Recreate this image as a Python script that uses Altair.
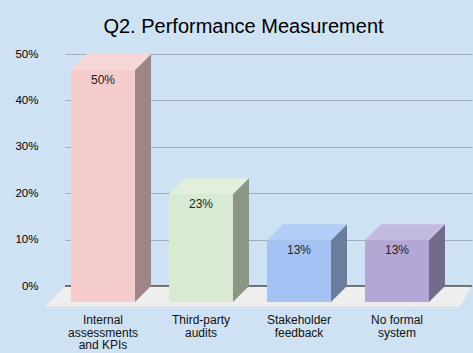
import altair as alt
import pandas as pd

# ---- data ----
categories = ["Internal assessments and KPIs", "Third-party audits",
              "Stakeholder feedback", "No formal system"]
label_lines = ["Internal\nassessments\nand KPIs", "Third-party\naudits",
               "Stakeholder\nfeedback", "No formal\nsystem"]
values = [50.0, 23.3, 13.3, 13.3]
y_ticks = [0, 10, 20, 30, 40, 50]

# ---- style / layout ----
FRONT = ["#f4cccc", "#d9ead3", "#a4c2f4", "#b4a7d6"]
SIDE = ["#a08585", "#8b9684", "#6a7d9c", "#746b8a"]
TOP = ["#f7d6d6", "#e1efdc", "#b4cdf6", "#c4b9df"]
BG = "#cfe2f3"
GRID = "#9eacba"
FLOOR = "#eeeeee"

PLOT_W, PLOT_H = 407, 232
X_DOMAIN = [-0.551, 3.602]
Y_DOMAIN = [0, 50]
PX_X = PLOT_W / (X_DOMAIN[1] - X_DOMAIN[0])
PX_Y = PLOT_H / (Y_DOMAIN[1] - Y_DOMAIN[0])
DEPTH = 16          # px, bar depth
FLOOR_DEPTH = 20.7  # px
HALF = 32 / PX_X
DXU = DEPTH / PX_X
DYU = DEPTH / PX_Y

xs = alt.Scale(domain=X_DOMAIN, nice=False, zero=False)
ys = alt.Scale(domain=Y_DOMAIN, nice=False, zero=False)
YAX = alt.Axis(values=y_ticks, labelExpr="datum.value + '%'",
               domain=False, ticks=False, grid=True, gridColor=GRID,
               gridWidth=1, labelPadding=27, labelFontSize=11.5,
               labelFont="Liberation Sans", labelColor="#000000",
               title=None)

idx = list(range(len(categories)))
bars = pd.DataFrame({"cat": categories, "i": idx, "v": values,
                     "lab": label_lines})
bars["fx"] = bars["i"] - HALF - DXU
bars["fx2"] = bars["i"] + HALF - DXU
bars["fy"] = bars["v"] - DYU
bars["fy2"] = -DYU
bars["base"] = 0.0
bars["txt"] = [f"{round(v):.0f}%" for v in values]

side_rows, top_rows = [], []
for c, i, v in zip(categories, idx, values):
    side_rows.append({"cat": c, "x": i + HALF - DXU, "y": v - DYU, "y2": -DYU})
    side_rows.append({"cat": c, "x": i + HALF, "y": v, "y2": 0.0})
    top_rows.append({"cat": c, "y": v - DYU, "x": i - HALF - DXU, "x2": i + HALF - DXU})
    top_rows.append({"cat": c, "y": v, "x": i - HALF, "x2": i + HALF})
side_df = pd.DataFrame(side_rows)
top_df = pd.DataFrame(top_rows)

floor_df = pd.DataFrame({
    "y": [-FLOOR_DEPTH / PX_Y, 0.0],
    "x": [X_DOMAIN[0] - 20 / PX_X, X_DOMAIN[0]],
    "x2": [X_DOMAIN[0] + 395 / PX_X, X_DOMAIN[1]],
})
zero_df = pd.DataFrame({"y": [0.0], "x": [X_DOMAIN[0]], "x2": [X_DOMAIN[1]]})

floor = alt.Chart(floor_df).mark_area(orient="horizontal", color=FLOOR).encode(
    y=alt.Y("y:Q", scale=ys, axis=YAX),
    x=alt.X("x:Q", scale=xs, axis=None),
    x2="x2:Q",
)

zero = alt.Chart(zero_df).mark_rule(color="#000000", strokeWidth=1).encode(
    y=alt.Y("y:Q", scale=ys, axis=YAX),
    x=alt.X("x:Q", scale=xs, axis=None),
    x2="x2:Q",
)

fronts = alt.Chart(bars).mark_rect(strokeWidth=0).encode(
    x=alt.X("fx:Q", scale=xs, axis=None),
    x2="fx2:Q",
    y=alt.Y("fy:Q", scale=ys, axis=YAX),
    y2="fy2:Q",
    color=alt.Color("cat:N", scale=alt.Scale(domain=categories, range=FRONT), legend=None),
)

sides = alt.Chart(side_df).mark_area(strokeWidth=0).encode(
    x=alt.X("x:Q", scale=xs, axis=None),
    y=alt.Y("y:Q", scale=ys, axis=YAX),
    y2="y2:Q",
    detail="cat:N",
    color=alt.Color("cat:N", scale=alt.Scale(domain=categories, range=SIDE), legend=None),
)

tops = alt.Chart(top_df).mark_area(orient="horizontal", strokeWidth=0).encode(
    y=alt.Y("y:Q", scale=ys, axis=YAX),
    x=alt.X("x:Q", scale=xs, axis=None),
    x2="x2:Q",
    detail="cat:N",
    color=alt.Color("cat:N", scale=alt.Scale(domain=categories, range=TOP), legend=None),
)

vtext = alt.Chart(bars).mark_text(font="Liberation Sans", fontSize=12, color="#222222",
                                  baseline="middle", dx=-DEPTH, dy=DEPTH + 10).encode(
    x=alt.X("i:Q", scale=xs, axis=None),
    y=alt.Y("v:Q", scale=ys, axis=YAX),
    text="txt:N",
)

ctext = alt.Chart(bars).mark_text(font="Liberation Sans", fontSize=12, color="#111111",
                                  baseline="top", lineBreak="\n", lineHeight=12.5,
                                  dx=-DEPTH, dy=29).encode(
    x=alt.X("i:Q", scale=xs, axis=None),
    y=alt.Y("base:Q", scale=ys, axis=YAX),
    text="lab:N",
)

chart = alt.layer(floor, zero, fronts, sides, tops, vtext, ctext).resolve_scale(
    color="independent"
).properties(
    width=PLOT_W, height=PLOT_H,
    background=BG,
    padding={"left": 65, "top": 54, "right": 1, "bottom": 67},
    autosize=alt.AutoSizeParams(type="none"),
    title=alt.Title("Q2. Performance Measurement", font="Liberation Sans", fontSize=20,
                    fontWeight="normal", color="#000000", anchor="middle",
                    dx=-25, dy=27, offset=18, baseline="bottom"),
).configure_view(stroke=None)

chart.save("out.html", embed_options={"renderer": "svg", "actions": False})
